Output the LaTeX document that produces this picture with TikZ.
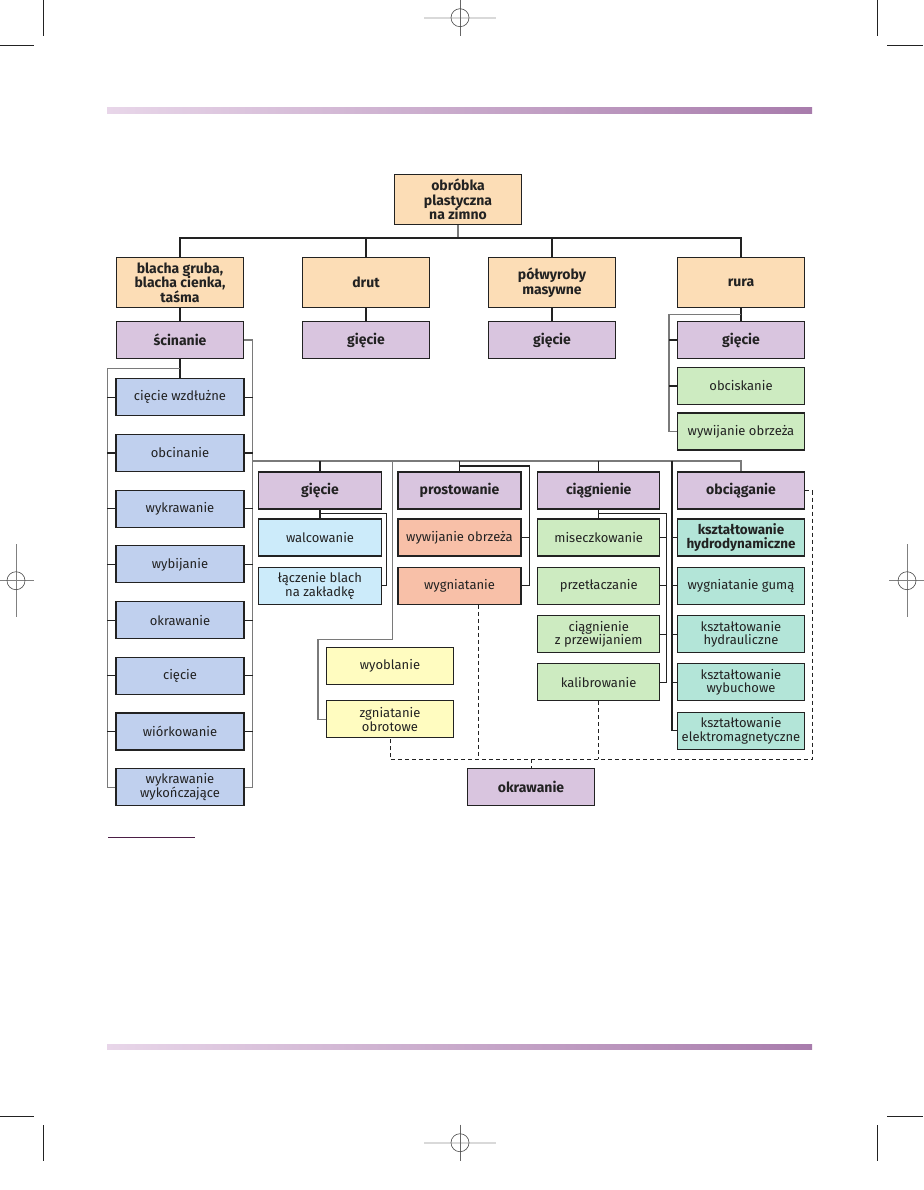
\documentclass[tikz,border=0pt]{standalone}
\usepackage{fontspec}
\setmainfont{Fira Sans}
\usetikzlibrary{positioning}
\usetikzlibrary{calc}
\definecolor{brzoskw}{HTML}{FCDDB6}
\definecolor{fiolet}{HTML}{D9C5DF}
\definecolor{niebieski}{HTML}{C0D0EE}
\definecolor{blekit}{HTML}{CCEBFA}
\definecolor{losos}{HTML}{F8C0A8}
\definecolor{ziel}{HTML}{CDEBC1}
\definecolor{morski}{HTML}{B3E5D8}
\definecolor{zolty}{HTML}{FFFCC0}
\definecolor{pasekL}{HTML}{E8D6E9}
\definecolor{pasekP}{HTML}{A87CAC}
\definecolor{linia}{HTML}{222222}
\definecolor{szary}{HTML}{7A7A7A}
\definecolor{stopka}{HTML}{4B1E45}

\begin{document}
\begin{tikzpicture}[x=1pt,y=-1pt,
  blok/.style={rectangle,draw=linia,line width=1.1pt,minimum width=127pt,minimum height=37pt,
    inner sep=1pt,align=center,text=linia,font=\fontsize{13}{13.5}\selectfont},
  gruby/.style={blok,font=\fontsize{14}{14.5}\selectfont\bfseries},
  kat/.style={gruby,fill=brzoskw,minimum height=50pt},
  proc/.style={gruby,fill=fiolet},
  nieb/.style={blok,fill=niebieski,minimum width=128pt},
  blekitny/.style={blok,fill=blekit,minimum width=123pt},
  lososowy/.style={blok,fill=losos,minimum width=123pt},
  zielony/.style={blok,fill=ziel},
  morski/.style={blok,fill=morski},
  zolty/.style={blok,fill=zolty},
  link/.style={linia,line width=1.1pt},
  glink/.style={szary,line width=1.1pt},
  dlink/.style={linia,line width=1pt,dash pattern=on 4pt off 3pt}]

  % tlo
  \useasboundingbox[fill=white] (0,0) rectangle (923,1190);
  \shade[left color=pasekL,right color=pasekP] (107,108) rectangle (812,114);
  \shade[left color=pasekL,right color=pasekP] (107,1044) rectangle (812,1049);
  \draw[stopka,line width=0.8pt] (108,837) -- (195,837);

  % znaczniki drukarskie
  \draw[linia,line width=0.6pt] (43.5,0) -- (43.5,35.7) (877.5,0) -- (877.5,35.7)
    (0,45) -- (34,45) (887,45) -- (923,45)
    (0,1116.7) -- (34,1116.7) (887,1116.7) -- (923,1116.7)
    (43.5,1125) -- (43.5,1160.7) (877.5,1125) -- (877.5,1160.7);
  \foreach \x/\y in {460/17.7,460/1142.7} {
    \draw[black!15,line width=2pt] (\x-36,\y) -- (\x+36,\y);
    \draw[black!60,line width=0.5pt] (\x,\y-18) -- (\x,\y+18);
    \draw[black!70,line width=0.6pt] (\x,\y) circle (9pt);
  }
  \foreach \x in {16,907} {
    \draw[black!50,line width=0.5pt] (\x-18,580.7) -- (\x+18,580.7) (\x,544.3) -- (\x,616.7);
    \draw[black!70,line width=0.6pt] (\x,580.7) circle (9pt);
  }

  % korzen
  \node[kat] (root) at (458,199.5) {obróbka\\plastyczna\\na zimno};

  % 1. poziom
  \node[kat] (blacha) [below left=83pt and 278pt of root.center,anchor=center] {blacha gruba,\\blacha cienka,\\taśma};
  \node[kat] (drut)   [right=186pt of blacha.center,anchor=center] {drut};
  \node[kat] (polw)   [right=186pt of drut.center,anchor=center] {półwyroby\\masywne};
  \node[kat] (rura)   [right=189pt of polw.center,anchor=center] {rura};

  % 2. poziom
  \node[proc] (scin)  [below=57.5pt of blacha.center,anchor=center] {ścinanie};
  \node[proc] (giecA) [below=57.5pt of drut.center,anchor=center] {gięcie};
  \node[proc] (giecB) [below=57.5pt of polw.center,anchor=center] {gięcie};
  \node[proc] (giecC) [below=57.5pt of rura.center,anchor=center] {gięcie};
  \node[zielony] (obcisk) [below=46pt of giecC.center,anchor=center] {obciskanie};
  \node[zielony] (wywijA) [below=45.5pt of obcisk.center,anchor=center] {wywijanie obrzeża};

  % ścinanie
  \node[nieb] (cut1) [below=57.3pt of scin.center,anchor=center] {cięcie wzdłużne};
  \node[nieb] (cut2) [below=55.7pt of cut1.center,anchor=center] {obcinanie};
  \node[nieb] (cut3) [below=55.7pt of cut2.center,anchor=center] {wykrawanie};
  \node[nieb] (cut4) [below=55.7pt of cut3.center,anchor=center] {wybijanie};
  \node[nieb] (cut5) [below=55.7pt of cut4.center,anchor=center] {okrawanie};
  \node[nieb] (cut6) [below=55.7pt of cut5.center,anchor=center] {cięcie};
  \node[nieb] (cut7) [below=55.7pt of cut6.center,anchor=center] {wiórkowanie};
  \node[nieb] (cut8) [below=55.7pt of cut7.center,anchor=center] {wykrawanie\\wykończające};

  % 3. poziom
  \node[proc,minimum width=123pt] (giecD) [below left=150.5pt and 46pt of giecA.center,anchor=center] {gięcie};
  \node[proc,minimum width=123pt] (prost) [right=139.5pt of giecD.center,anchor=center] {prostowanie};
  \node[proc,minimum width=122pt] (ciag)  [right=139.2pt of prost.center,anchor=center] {ciągnienie};
  \node[proc] (obciag) [right=142.3pt of ciag.center,anchor=center] {obciąganie};

  \node[blekitny] (walc) [below=47pt of giecD.center,anchor=center] {walcowanie};
  \node[blekitny] (lacz) [below=48.3pt of walc.center,anchor=center] {łączenie blach\\na zakładkę};

  \node[lososowy] (wywijB) [below=47pt of prost.center,anchor=center] {wywijanie obrzeża};
  \node[lososowy] (wygn)   [below=48.3pt of wywijB.center,anchor=center] {wygniatanie};

  \node[zielony,minimum width=122pt] (misecz) [below=47pt of ciag.center,anchor=center] {miseczkowanie};
  \node[zielony,minimum width=122pt] (przetl) [below=48.3pt of misecz.center,anchor=center] {przetłaczanie};
  \node[zielony,minimum width=122pt] (ciagz)  [below=48.3pt of przetl.center,anchor=center] {ciągnienie\\z przewijaniem};
  \node[zielony,minimum width=122pt] (kalibr) [below=48.3pt of ciagz.center,anchor=center] {kalibrowanie};

  \node[morski,font=\fontsize{13.5}{14}\selectfont\bfseries] (ksztH) [below=47pt of obciag.center,anchor=center] {kształtowanie\\hydrodynamiczne};
  \node[morski] (guma)    [below=48.3pt of ksztH.center,anchor=center] {wygniatanie gumą};
  \node[morski] (hydr)    [below=48.3pt of guma.center,anchor=center] {kształtowanie\\hydrauliczne};
  \node[morski] (wybuch)  [below=48.3pt of hydr.center,anchor=center] {kształtowanie\\wybuchowe};
  \node[morski] (elektro) [below=48.3pt of wybuch.center,anchor=center] {kształtowanie\\elektromagnetyczne};

  \node[zolty] (wyobl)  [below right=80.5pt and 70pt of lacz.center,anchor=center] {wyoblanie};
  \node[zolty] (zgniat) [below=53pt of wyobl.center,anchor=center] {zgniatanie\\obrotowe};

  \node[proc] (okraw) [below left=105pt and 67.7pt of kalibr.center,anchor=center] {okrawanie};

  % polaczenia - gora
  \coordinate (bus1) at ($(root.south)+(0,13)$);
  \draw[glink] (root.south) -- (bus1);
  \foreach \n in {blacha,drut,polw,rura}
    \draw[link] (bus1) -| (\n.north);
  \foreach \a/\b in {blacha/scin,drut/giecA,polw/giecB,rura/giecC}
    \draw[link] (\a.south) -- (\b.north);

  % rura
  \coordinate (ruL) at ($(obcisk.west)+(-8,0)$);
  \draw[glink] ($(rura.south)+(0,6.8)$) -| (ruL |- wywijA.west) -- (wywijA.west);
  \foreach \n in {giecC,obcisk}
    \draw[link] (\n.west) -- (\n.west -| ruL);

  % ścinanie
  \coordinate (scL) at ($(cut1.west)+(-8,0)$);
  \coordinate (scR) at ($(cut1.east)+(8,0)$);
  \draw[link] (scin.south) -- (cut1.north);
  \draw[glink] ($(scin.south)+(0,9.5)$) -| (scL |- cut8.west) -- (cut8.west);
  \draw[glink] (scin.east) -| (scR |- cut8.east) -- (cut8.east);
  \foreach \i in {1,...,7} {
    \draw[link] (cut\i.west) -- (cut\i.west -| scL);
    \draw[link] (cut\i.east) -- (cut\i.east -| scR);
  }

  % dolna szyna
  \coordinate (bus2) at ($(giecD.north)+(0,-10.5)$);
  \draw[glink] (scR |- bus2) -| (obciag.north);
  \foreach \n in {giecD,prost,ciag}
    \draw[link] (\n.north) -- (\n.north |- bus2);

  % gięcie
  \coordinate (gdR) at ($(walc.east)+(4.5,0)$);
  \draw[link] (giecD.south) -- (walc.north);
  \draw[link] ($(giecD.south)+(0,3.5)$) -| (gdR |- lacz.east) -- (lacz.east);

  % wyoblanie
  \coordinate (wyX) at ($(giecD.east)+(10.5,0)$);
  \draw[glink] (wyX |- bus2) |- ($(wyobl.north)+(0,-8)$) -| ($(zgniat.west)+(-8,0)$) -- (zgniat.west);

  % prostowanie
  \coordinate (prR) at ($(wywijB.east)+(7.5,0)$);
  \draw[link] ($(prost.north)+(0,-5.5)$) -| (prR |- wygn.east) -- (wygn.east);
  \draw[link] (wywijB.east) -- (wywijB.east -| prR);

  % ciągnienie
  \coordinate (cgR) at ($(misecz.east)+(6.5,0)$);
  \draw[link] (ciag.south) -- (misecz.north);
  \draw[link] ($(ciag.south)+(0,4)$) -| (cgR |- kalibr.east) -- (kalibr.east);
  \foreach \n in {misecz,przetl,ciagz}
    \draw[link] (\n.east) -- (\n.east -| cgR);

  % obciąganie
  \coordinate (obL) at ($(ksztH.west)+(-5,0)$);
  \draw[link] (obL |- bus2) |- (elektro.west);
  \foreach \n in {ksztH,guma,hydr,wybuch}
    \draw[link] (\n.west) -- (\n.west -| obL);

  % okrawanie
  \coordinate (dsh) at ($(okraw.north)+(0,-9)$);
  \coordinate (dR) at ($(obciag.east)+(7,0)$);
  \coordinate (wgS) at ($(wygn.south)+(18.5,0)$);
  \draw[dlink] (obciag.east) -- (dR) |- (dsh) -| (zgniat.south);
  \draw[dlink] (wgS) -- (wgS |- dsh);
  \draw[dlink] (kalibr.south) -- (kalibr.south |- dsh);
  \draw[dlink] (dsh) -- (okraw.north);

\end{tikzpicture}
\end{document}
